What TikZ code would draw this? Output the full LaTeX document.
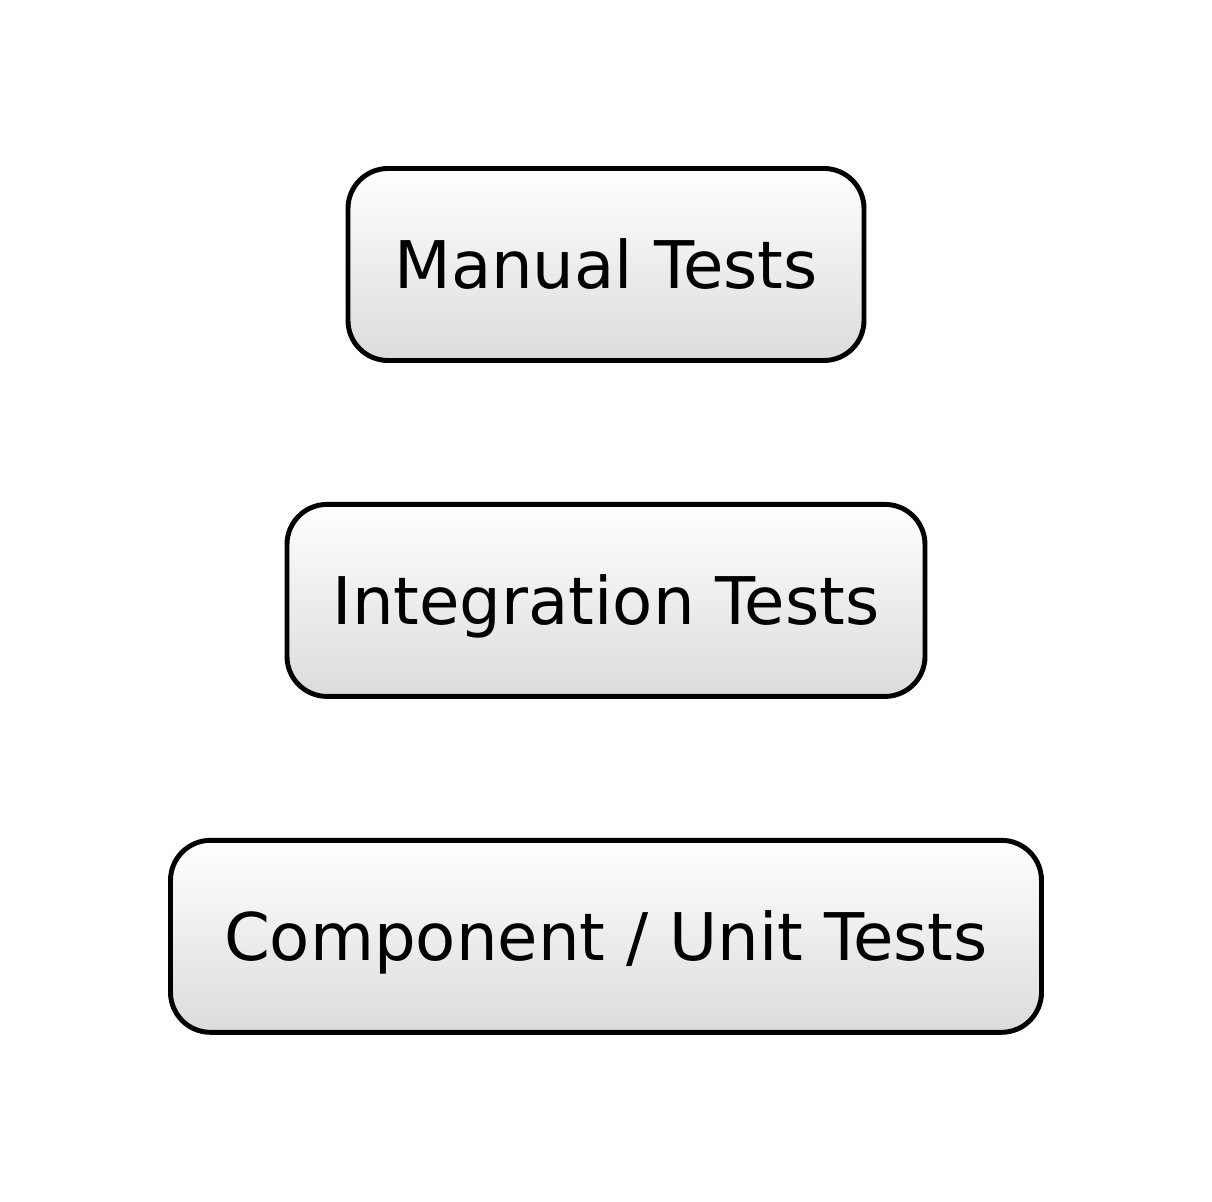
\documentclass[tikz,border=0pt]{standalone}
\usepackage{fontspec}
\setmainfont{DejaVu Sans}
\usetikzlibrary{positioning}

\begin{document}
\begin{tikzpicture}[every node/.style={font=\fontsize{18.7}{22}\selectfont},
	testbox/.style={draw, line width=1.4pt, rounded corners=0.4cm,
		top color=white, bottom color=black!14,
		minimum height=1.92cm, text height=13.6pt, text depth=0pt},
	node distance=1.39cm]

    \useasboundingbox (0,0) rectangle (12.12,-12.02);

    \node[testbox, minimum width=5.16cm] (manual) at (6.06,-2.645) {Manual Tests};
    \node[testbox, minimum width=6.38cm, below=of manual] (integration) {Integration Tests};
    \node[testbox, minimum width=8.71cm, below=of integration] (unit) {Component / Unit Tests};
\end{tikzpicture}
\end{document}
